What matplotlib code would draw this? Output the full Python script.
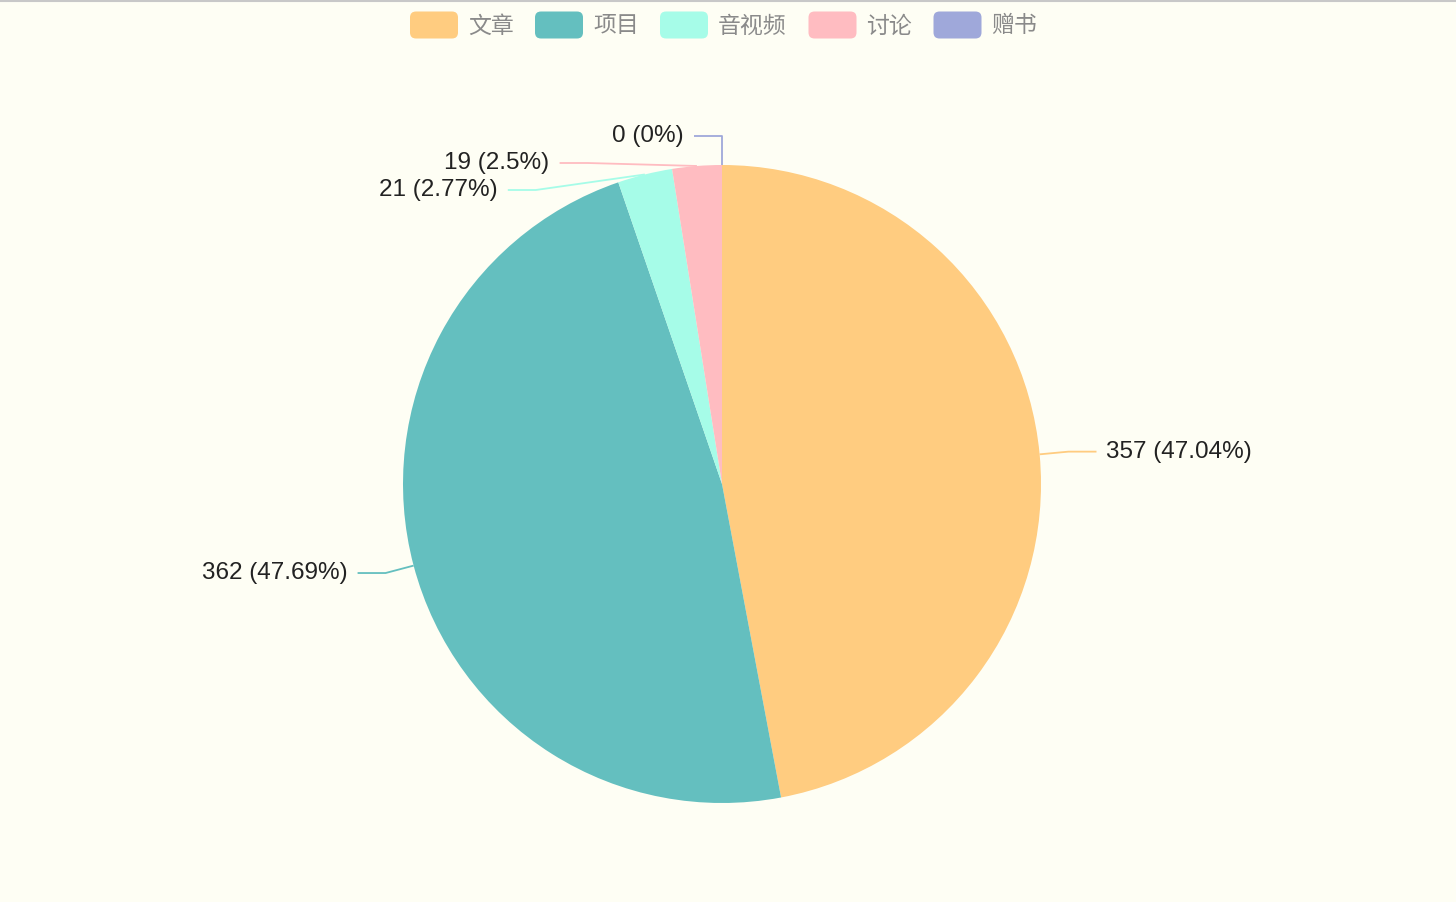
import numpy as np
import matplotlib
matplotlib.use("Agg")
import matplotlib.pyplot as plt
from matplotlib.patches import FancyBboxPatch

plt.rcParams['font.family'] = ['Noto Sans CJK SC', 'DejaVu Sans']

# data
categories = ["文章", "项目", "音视频", "讨论", "赠书"]
values = [357, 362, 21, 19, 0]
colors = ["#ffcc80", "#64bfbf", "#a6fce8", "#ffbcc1", "#9fa8da"]

W, H = 1456, 902
bg = "#fefef4"
cx, cy, r = 722, H - 484, 319

fig = plt.figure(figsize=(W / 100, H / 100), dpi=100, facecolor=bg)
ax = fig.add_axes([0, 0, 1, 1])

# top border line
ax.plot([0, W], [H - 0.5, H - 0.5], color="#c8c8c8", lw=1.5)

ax.pie(values, colors=colors, startangle=90, counterclock=False,
       center=(cx, cy), radius=r, frame=True,
       wedgeprops=dict(linewidth=0))
ax.set_xlim(0, W)
ax.set_ylim(0, H)
ax.set_aspect("equal")
ax.axis("off")

# labels with leader lines
total = sum(values)
start = 0.0
labels = []
for i, v in enumerate(values):
    frac = v / total
    mid = start + frac / 2
    start += frac
    ang = np.deg2rad(90 - mid * 360)
    pct = round(frac * 100, 2)
    text = "%d (%g%%)" % (v, pct)
    labels.append(dict(i=i, ang=ang, text=text))

R_elbow = r + 29
L2 = 28
gap = 27
for lb in labels:
    a = lb["ang"]
    lb["edge"] = (cx + r * np.cos(a), cy + r * np.sin(a))
    lb["ey"] = cy + R_elbow * np.sin(a)
    lb["ex"] = cx + R_elbow * np.cos(a)
    lb["left"] = np.cos(a) < 1e-6

# resolve overlaps on the left side (top to bottom)
left = sorted([lb for lb in labels if lb["left"]], key=lambda d: -d["ey"])
prev = None
for lb in left:
    y = lb["ey"]
    if prev is not None and prev - y < gap:
        y = prev - gap
        dy = y - cy
        lb["ex"] = cx - np.sqrt(max(R_elbow ** 2 - dy ** 2, 0))
    lb["ey"] = y
    prev = y

for lb in labels:
    side = -1 if lb["left"] else 1
    ex, ey = lb["ex"], lb["ey"]
    endx = ex + side * L2
    col = colors[lb["i"]]
    x0, y0 = lb["edge"]
    ax.plot([x0, ex, endx], [y0, ey, ey], color=col, lw=1.3,
            solid_capstyle="butt")
    ax.text(endx + side * 10, ey, lb["text"], fontsize=17.5,
            family=["Liberation Sans", "DejaVu Sans"], color="#222222",
            ha="left" if side > 0 else "right", va="center")

# legend
box_w, box_h = 48, 27
leg_y = H - 25
x = 410
for name, col in zip(categories, colors):
    ax.add_patch(FancyBboxPatch((x, leg_y - box_h / 2), box_w, box_h,
                                boxstyle="round,pad=0,rounding_size=6",
                                fc=col, ec="none"))
    ax.text(x + box_w + 10, leg_y - 1, name, fontsize=16.5, color="#8a8a8a",
            ha="left", va="center")
    x += box_w + 10 + len(name) * 23.5 + 20

fig.savefig("out.png", dpi=100, facecolor=bg)
